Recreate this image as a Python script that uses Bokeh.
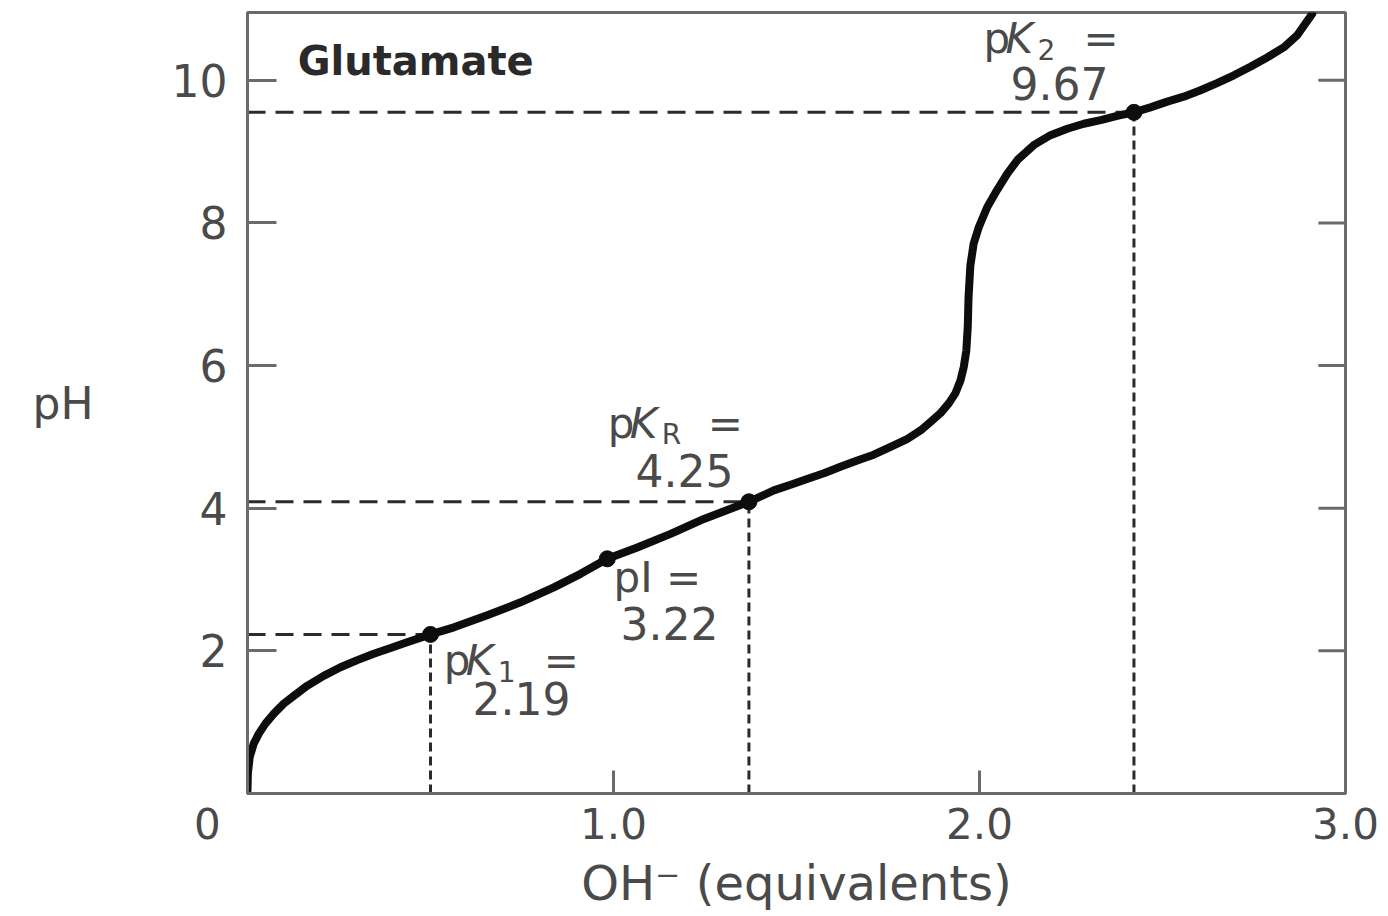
from bokeh.plotting import figure
from bokeh.models import FixedTicker, Range1d
from bokeh.core.properties import value
from bokeh.embed import file_html
from bokeh.resources import INLINE

# ---------------- data ----------------
curve_x = [0.000, 0.001, 0.006, 0.017, 0.031, 0.049, 0.072, 0.099, 0.127, 0.163,
           0.208, 0.254, 0.300, 0.345, 0.391, 0.436, 0.500, 0.564, 0.655, 0.746,
           0.837, 0.910, 0.983, 1.065, 1.156, 1.247, 1.370, 1.438, 1.484, 1.529,
           1.575, 1.620, 1.666, 1.711, 1.757, 1.802, 1.839, 1.866, 1.893, 1.916,
           1.934, 1.948, 1.957, 1.964, 1.968, 1.970, 1.975, 1.984, 1.998, 2.021,
           2.048, 2.076, 2.105, 2.148, 2.194, 2.240, 2.285, 2.331, 2.376, 2.422,
           2.467, 2.513, 2.558, 2.604, 2.649, 2.695, 2.740, 2.786, 2.831, 2.868,
           2.891, 2.909]
curve_y = [0.04, 0.28, 0.51, 0.70, 0.84, 0.98, 1.12, 1.26, 1.37, 1.51,
           1.65, 1.77, 1.87, 1.96, 2.04, 2.12, 2.23, 2.33, 2.50, 2.68,
           2.89, 3.08, 3.29, 3.45, 3.64, 3.85, 4.09, 4.25, 4.33, 4.41,
           4.49, 4.58, 4.67, 4.75, 4.86, 4.97, 5.09, 5.21, 5.33, 5.47,
           5.61, 5.79, 5.98, 6.21, 6.55, 6.95, 7.40, 7.71, 7.94, 8.22,
           8.46, 8.69, 8.89, 9.09, 9.23, 9.32, 9.39, 9.44, 9.50, 9.55,
           9.62, 9.70, 9.77, 9.86, 9.96, 10.07, 10.19, 10.32, 10.46, 10.63,
           10.80, 10.93]

point_names = ["pK1", "pI", "pKR", "pK2"]
point_x = [0.500, 0.983, 1.370, 2.422]
point_y = [2.23, 3.29, 4.09, 9.55]
point_values = ["2.19", "3.22", "4.25", "9.67"]
point_subs = ["1", "", "R", "2"]
guide_points = ["pK1", "pKR", "pK2"]

y_ticks = [2, 4, 6, 8, 10]
x_ticks = [0, 1, 2, 3]
x_tick_labels = ["0", "1.0", "2.0", "3.0"]
chart_title = "Glutamate"
x_title = "OH\u207b (equivalents)"
y_title = "pH"

# ---------------- styling ----------------
FONT = "DejaVu Sans"
TXT = "#4a4a4a"
AXC = "#6a6a6a"
X_MAX = 3.0
ORIGIN_PAD = "\u00a0" * 6   # shifts the origin "0" to the left of the corner

p = figure(width=1380, height=915, x_range=Range1d(0, X_MAX), y_range=Range1d(0, 10.95),
           output_backend="svg", toolbar_location=None,
           min_border_left=247, min_border_right=35, min_border_top=12, min_border_bottom=122)
p.xgrid.visible = False
p.ygrid.visible = False
p.outline_line_color = AXC
p.outline_line_width = 3
p.outline_line_alpha = 1.0
p.background_fill_color = "white"
p.border_fill_color = "white"

for ax in (p.xaxis[0], p.yaxis[0]):
    ax.axis_line_color = AXC
    ax.axis_line_width = 3
    ax.major_tick_line_color = AXC
    ax.major_tick_line_width = 3
    ax.major_tick_out = 0
    ax.minor_tick_line_color = None
    ax.major_label_text_font = FONT
    ax.major_label_text_color = TXT
    ax.axis_label_text_font = FONT
    ax.axis_label_text_color = TXT
    ax.axis_label_text_font_style = "normal"

xa = p.xaxis[0]
xa.ticker = FixedTicker(ticks=x_ticks)
overrides = dict(zip(x_ticks, x_tick_labels))
overrides[0] = overrides[0] + ORIGIN_PAD
xa.major_label_overrides = overrides
xa.major_label_text_font_size = "42px"
xa.major_label_standoff = 6
xa.major_tick_in = 23
xa.axis_label = x_title
xa.axis_label_text_font_size = "48px"
xa.axis_label_standoff = 3

ya = p.yaxis[0]
ya.ticker = FixedTicker(ticks=y_ticks)
ya.major_label_text_font_size = "44px"
ya.major_label_standoff = 20
ya.major_tick_in = 29
ya.axis_label = y_title
ya.axis_label_orientation = "horizontal"
ya.axis_label_text_font_size = "44px"
ya.axis_label_standoff = 75

# inward ticks on the right border (same tick positions as the left axis)
RIGHT_TICK = 0.074
p.segment(x0=[X_MAX - RIGHT_TICK] * len(y_ticks), y0=y_ticks, x1=[X_MAX] * len(y_ticks), y1=y_ticks,
          line_color=AXC, line_width=3)

# dashed guide lines
hx0, hx1, hy = [], [], []
vx, vy0, vy1 = [], [], []
for n, x, y in zip(point_names, point_x, point_y):
    if n in guide_points:
        hx0.append(0); hx1.append(x); hy.append(y)
        vx.append(x); vy0.append(0); vy1.append(y)
p.segment(x0=hx0, y0=hy, x1=hx1, y1=hy, line_color="#2b2b2b", line_width=3, line_dash="18 10")
p.segment(x0=vx, y0=vy0, x1=vx, y1=vy1, line_color="#2b2b2b", line_width=3, line_dash="9 5")

# titration curve
p.line(curve_x, curve_y, line_color="#0d0d0d", line_width=8, line_join="round", line_cap="round")
p.scatter(point_x, point_y, size=16, color="#0d0d0d")

# title
p.text(x=[0.137], y=[10.27], text=[chart_title], text_font=value(FONT), text_font_size="40px",
       text_font_style="bold", text_color="#2a2a2a", text_align="left", text_baseline="alphabetic")

# annotation anchors (line 1 and line 2 positions, data units)
ann_pos = {
    "pK1": ((0.536, 1.865), (0.615, 1.334)),
    "pI":  ((1.000, 3.030), (1.019, 2.386)),
    "pKR": ((0.984, 5.190), (1.060, 4.530)),
    "pK2": ((2.011, 10.590), (2.085, 9.960)),
}

def txt(x, y, s, size="42px", style="normal", xo=0, yo=0):
    p.text(x=[x], y=[y], text=[s], x_offset=xo, y_offset=yo, text_font=value(FONT),
           text_font_size=size, text_font_style=style, text_color=TXT,
           text_align="left", text_baseline="alphabetic")

for n, v, sub in zip(point_names, point_values, point_subs):
    (x1, y1), (x2, y2) = ann_pos[n]
    if sub:
        txt(x1, y1, "p")
        txt(x1, y1, "K", style="italic", xo=22)
        txt(x1, y1, sub, size="28px", xo=54, yo=11)
        txt(x1, y1, "=", xo=100)
    else:
        txt(x1, y1, "pI =")
    txt(x2, y2, v, size="44px")

open("out.html", "w").write(file_html(p, INLINE))
